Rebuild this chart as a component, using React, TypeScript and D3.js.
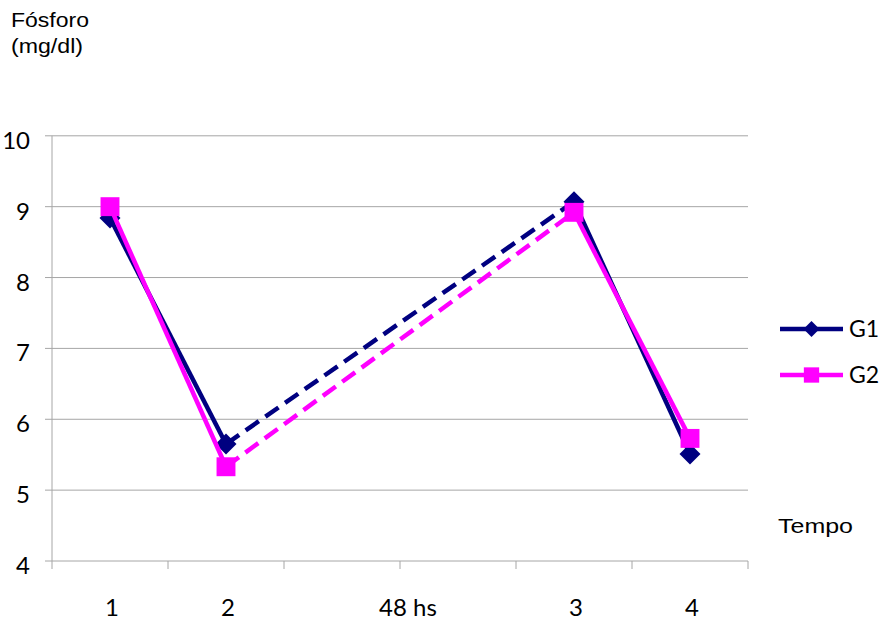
import React from "react";
import * as d3 from "d3";

const categories = ["1", "2", "48a", "48b", "3", "4"];
const seriesNames = ["G1", "G2"];
const g1Values: (number | null)[] = [8.84, 5.65, null, null, 9.07, 5.51];
const g2Values: (number | null)[] = [9.0, 5.33, null, null, 8.92, 5.73];
const yTicks = [4, 5, 6, 7, 8, 9, 10];
// x labels: text and the category (or pair of categories) they sit under
const xLabels: { text: string; cats: string[] }[] = [
  { text: "1", cats: ["1"] },
  { text: "2", cats: ["2"] },
  { text: "48 hs", cats: ["48a", "48b"] },
  { text: "3", cats: ["3"] },
  { text: "4", cats: ["4"] },
];

const W = 885;
const H = 620;
const left = 52;
const right = 748;
const top = 135.8;
const bottom = 561;

const colors = ["#000080", "#FF00FF"];
const tickFont = "Lato, 'Liberation Sans', Arial, sans-serif";
const textFont = "'Liberation Sans', Arial, sans-serif";

export default function App() {
  const x = d3.scaleBand<string>().domain(categories).range([left, right]).padding(0);
  const y = d3.scaleLinear().domain([4, 10]).range([bottom, top]);
  const cx = (c: string) => (x(c) as number) + x.bandwidth() / 2;

  const series = [g1Values, g2Values];
  const line = d3.line<[number, number]>().x((d) => d[0]).y((d) => d[1]);

  const segs = (vals: (number | null)[]) => {
    const pts = vals
      .map((v, i) => ({ v, i }))
      .filter((p) => p.v !== null) as { v: number; i: number }[];
    const out: { d: string; dashed: boolean }[] = [];
    for (let k = 0; k < pts.length - 1; k++) {
      const a = pts[k];
      const b = pts[k + 1];
      out.push({
        d: line([
          [cx(categories[a.i]), y(a.v)],
          [cx(categories[b.i]), y(b.v)],
        ]) as string,
        dashed: b.i - a.i > 1,
      });
    }
    return { pts, out };
  };

  const marker = (si: number, px: number, py: number, s: number, key: string) =>
    si === 0 ? (
      <path
        key={key}
        d={`M${px},${py - s}L${px + s},${py}L${px},${py + s}L${px - s},${py}Z`}
        fill={colors[0]}
      />
    ) : (
      <rect key={key} x={px - s * 0.9} y={py - s * 0.9} width={s * 1.8} height={s * 1.8} fill={colors[1]} />
    );

  return (
    <svg width={W} height={H} style={{ position: "absolute", left: 0, top: 0, background: "#fff" }}>
      <defs>
        <clipPath id="titleClip">
          <rect x={0} y={0} width={200} height={57} />
        </clipPath>
      </defs>
      <rect x={0} y={0} width={W} height={H} fill="#fff" />
      {/* title */}
      <g clipPath="url(#titleClip)" fontFamily={textFont} fontSize={20} fill="#000">
        <text x={11} y={27} textLength={78} lengthAdjust="spacingAndGlyphs">Fósforo</text>
        <text x={11} y={53} textLength={72} lengthAdjust="spacingAndGlyphs">(mg/dl)</text>
      </g>
      {/* gridlines */}
      {yTicks.filter((t) => t > 4).map((t) => (
        <line key={t} x1={left} x2={right} y1={y(t)} y2={y(t)} stroke="#a6a6a6" strokeWidth={1} />
      ))}
      {/* axes */}
      <line x1={left} x2={left} y1={top} y2={bottom} stroke="#a6a6a6" strokeWidth={1} />
      <line x1={left} x2={right} y1={bottom} y2={bottom} stroke="#a6a6a6" strokeWidth={1} />
      {yTicks.map((t) => (
        <line key={"yt" + t} x1={left - 7} x2={left} y1={y(t)} y2={y(t)} stroke="#a6a6a6" strokeWidth={1} />
      ))}
      {categories.map((c) => (
        <line key={"xt" + c} x1={x(c) as number} x2={x(c) as number} y1={bottom} y2={bottom + 8} stroke="#a6a6a6" />
      ))}
      <line x1={right} x2={right} y1={bottom} y2={bottom + 8} stroke="#a6a6a6" />
      {/* y labels */}
      {yTicks.map((t) => (
        <text key={"yl" + t} x={30} y={y(t) + 13} textAnchor="end" fontFamily={tickFont} fontSize={24} fill="#000">
          {t}
        </text>
      ))}
      {/* x labels */}
      {xLabels.map((l) => {
        const px = d3.mean(l.cats.map(cx)) as number;
        return (
          <text key={"xl" + l.text} x={px + (l.cats.length > 1 ? 8 : 2)} y={616} textAnchor="middle" fontFamily={tickFont} fontSize={24} fill="#000">
            {l.text}
          </text>
        );
      })}
      {/* series */}
      {series.map((vals, si) => {
        const { pts, out } = segs(vals);
        return (
          <g key={"s" + si}>
            {out.map((s, k) => (
              <path
                key={k}
                d={s.d}
                fill="none"
                stroke={colors[si]}
                strokeWidth={4.5}
                strokeDasharray={s.dashed ? "16,8" : undefined}
              />
            ))}
            {pts.map((p, k) => marker(si, cx(categories[p.i]), y(p.v), 10.5, "m" + k))}
          </g>
        );
      })}
      {/* legend */}
      {seriesNames.map((n, i) => {
        const ly = 329 + i * 46;
        return (
          <g key={n}>
            <line x1={780} x2={843} y1={ly} y2={ly} stroke={colors[i]} strokeWidth={4.5} />
            {marker(i, 811.5, ly, i === 0 ? 8 : 8.5, "lm")}
            <text x={849} y={ly + 8} fontFamily={tickFont} fontSize={23} fill="#000">
              {n}
            </text>
          </g>
        );
      })}
      <text x={778} y={533} fontFamily={textFont} fontSize={20} fill="#000" textLength={75} lengthAdjust="spacingAndGlyphs">Tempo</text>
    </svg>
  );
}
